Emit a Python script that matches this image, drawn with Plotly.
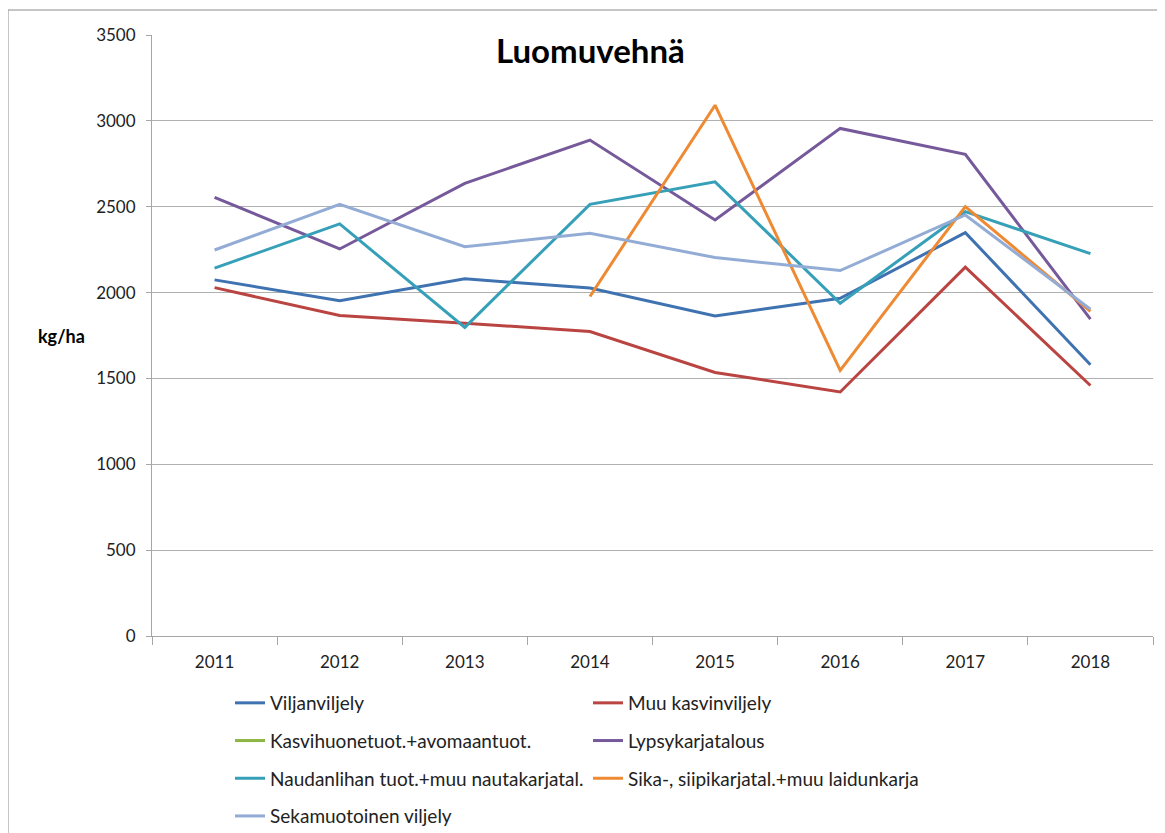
import plotly.graph_objects as go

years = ["2011", "2012", "2013", "2014", "2015", "2016", "2017", "2018"]

viljanviljely = [2074, 1952, 2080, 2026, 1864, 1967, 2349, 1580]
muu_kasvinviljely = [2029, 1866, 1822, 1773, 1535, 1421, 2148, 1459]
kasvihuone = [None, None, None, None, None, None, None, None]
lypsykarjatalous = [2555, 2254, 2636, 2888, 2423, 2956, 2805, 1845]
naudanliha = [2142, 2400, 1797, 2514, 2645, 1938, 2471, 2227]
sika_siipi = [None, None, None, 1977, 3091, 1547, 2500, 1890]
sekamuotoinen = [2248, 2514, 2267, 2345, 2204, 2128, 2452, 1903]

series_names = [
    "Viljanviljely",
    "Muu kasvinviljely",
    "Kasvihuonetuot.+avomaantuot.",
    "Lypsykarjatalous",
    "Naudanlihan tuot.+muu nautakarjatal.",
    "Sika-, siipikarjatal.+muu laidunkarja",
    "Sekamuotoinen viljely",
]
series_values = [viljanviljely, muu_kasvinviljely, kasvihuone, lypsykarjatalous,
                 naudanliha, sika_siipi, sekamuotoinen]
colors = ["#3F72B0", "#BA4441", "#8DB545", "#76599A", "#36A0B8", "#EE8A33", "#93ACD5"]
legends = ["legend", "legend2", "legend", "legend2", "legend", "legend2", "legend"]

FONT = "Lato"
OFF = 8  # page body margin
W, H = 1165 - OFF, 833 - OFF
L, R, T, B = 152 - OFF, 12, 35 - OFF, 197
pw, ph = W - L - R, H - T - B

def px_x(x):
    return (x - OFF - L) / pw

def px_y(y):
    return (H - B - (y - OFF)) / ph

fig = go.Figure()
for i, (name, vals) in enumerate(zip(series_names, series_values)):
    fig.add_trace(go.Scatter(
        x=years, y=vals, mode="lines", name=name,
        line=dict(color=colors[i], width=3),
        legend=legends[i], legendgroup=f"g{i}", showlegend=True,
        connectgaps=False,
    ))

fig.update_layout(
    width=W, height=H,
    margin=dict(l=L, r=R, t=T, b=B, autoexpand=False),
    paper_bgcolor="white", plot_bgcolor="white",
    font=dict(family=FONT, size=16, color="#222222"),
    showlegend=True,
    legend=dict(x=px_x(230), y=px_y(684), xanchor="left", yanchor="top",
                orientation="v", tracegroupgap=10, font=dict(size=19, family=FONT),
                bgcolor="rgba(0,0,0,0)"),
    legend2=dict(x=px_x(588), y=px_y(684), xanchor="left", yanchor="top",
                 orientation="v", tracegroupgap=10, font=dict(size=19, family=FONT),
                 bgcolor="rgba(0,0,0,0)"),
    xaxis=dict(
        type="category", range=[-0.5, 7.5],
        showline=True, linecolor="#A6A6A6", linewidth=1,
        ticks="outside", tickson="boundaries", ticklen=8, tickcolor="#A6A6A6",
        showgrid=False, tickfont=dict(size=17, family=FONT, color="#222222"),
        ticklabelstandoff=11,
    ),
    yaxis=dict(
        range=[0, 3500], dtick=500, tick0=0,
        showline=True, linecolor="#A6A6A6", linewidth=1,
        ticks="outside", ticklen=5, tickcolor="#A6A6A6",
        showgrid=True, gridcolor="#B0B0B0", gridwidth=1,
        zeroline=False, tickfont=dict(size=17, family=FONT, color="#222222"),
        ticklabelstandoff=7,
    ),
    annotations=[
        dict(text="<b>Luomuvehnä</b>", x=px_x(590), y=px_y(50), xref="paper", yref="paper",
             showarrow=False, xanchor="center", yanchor="middle",
             font=dict(size=33, family=FONT, color="black")),
        dict(text="<b>kg/ha</b>", x=px_x(61), y=px_y(336), xref="paper", yref="paper",
             showarrow=False, xanchor="center", yanchor="middle",
             font=dict(size=18, family=FONT, color="black")),
    ],
    shapes=[
        dict(type="rect", xref="paper", yref="paper",
             x0=px_x(8), x1=px_x(1180), y0=px_y(850), y1=px_y(10),
             line=dict(color="#8C8C8C", width=1), fillcolor="rgba(0,0,0,0)", layer="below"),
    ],
)

fig.write_html("out.html")
